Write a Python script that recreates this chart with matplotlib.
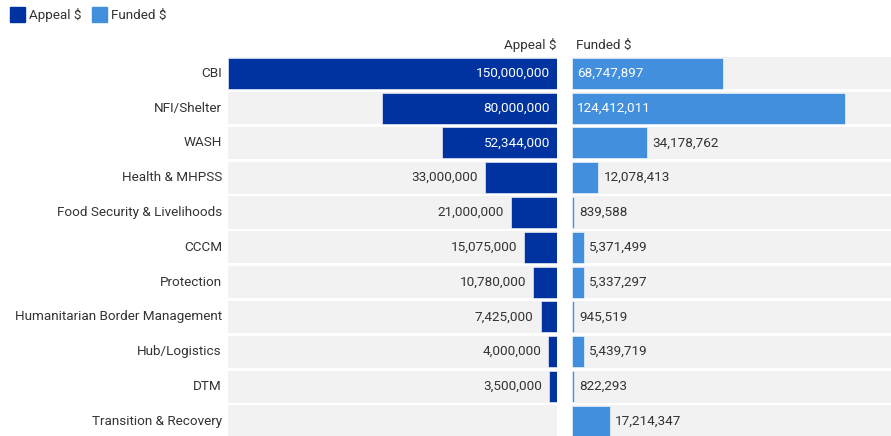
import numpy as np
import matplotlib.pyplot as plt
from matplotlib.patches import Rectangle

plt.rcParams['font.family'] = ['Roboto', 'DejaVu Sans']

sectors = ['CBI', 'NFI/Shelter', 'WASH', 'Health & MHPSS', 'Food Security & Livelihoods',
           'CCCM', 'Protection', 'Humanitarian Border Management', 'Hub/Logistics', 'DTM',
           'Transition & Recovery']
appeal = [150000000, 80000000, 52344000, 33000000, 21000000, 15075000, 10780000,
          7425000, 4000000, 3500000, np.nan]
funded = [68747897, 124412011, 34178762, 12078413, 839588, 5371499, 5337297,
          945519, 5439719, 822293, 17214347]

APPEAL_C = '#0033a0'
FUNDED_C = '#428fde'
BAND_C = '#f2f2f2'
TXT_C = '#333333'
FS = 9.7

W, H = 891, 436
fig = plt.figure(figsize=(W / 100, H / 100), dpi=100)

top_px, bot_px = 55.9, 438.7
px_per_m = 329 / 150.0


def ax_at(x0, x1):
    return fig.add_axes([x0 / W, 1 - bot_px / H, (x1 - x0) / W, (bot_px - top_px) / H])


axl = ax_at(228, 557)
axr = ax_at(572, 891)

y = np.arange(len(sectors))
band_h = 32 / 34.8
a_m = np.array(appeal) / 1e6
f_m = np.array(funded) / 1e6

left_max = 150.0
right_max = 319 / px_per_m

for ax, vals, xmax, col in [(axl, a_m, left_max, APPEAL_C), (axr, f_m, right_max, FUNDED_C)]:
    ax.barh(y, xmax, height=band_h, color=BAND_C, zorder=1)
    ax.barh(y, np.nan_to_num(vals), height=band_h * 0.97, color=col, zorder=2,
            edgecolor='#ffffff', linewidth=0.4)
    ax.set_ylim(len(sectors) - 0.5, -0.5)
    ax.axis('off')

axl.set_xlim(left_max, 0)
axr.set_xlim(0, right_max)

lpad = 7 / px_per_m
rpad = 5 / px_per_m
for i in range(len(sectors)):
    v = a_m[i]
    if not np.isnan(v):
        txt = f'{appeal[i]:,.0f}'
        if v > 40:
            axl.text(lpad, i, txt, ha='right', va='center', color='white', fontsize=FS, zorder=3)
        else:
            axl.text(v + lpad, i, txt, ha='right', va='center', color=TXT_C, fontsize=FS, zorder=3)
    v = f_m[i]
    txt = f'{funded[i]:,.0f}'
    if v > 40:
        axr.text(rpad, i, txt, ha='left', va='center', color='white', fontsize=FS, zorder=3)
    else:
        axr.text(v + rpad, i, txt, ha='left', va='center', color=TXT_C, fontsize=FS, zorder=3)
    # category labels
    fig.text(222 / W, 1 - (top_px + 34.8 * (i + 0.5)) / H, sectors[i], ha='right',
             va='center', color=TXT_C, fontsize=FS)

fig.text(557 / W, 1 - 45 / H, 'Appeal $', ha='right', va='center', color=TXT_C, fontsize=FS)
fig.text(576 / W, 1 - 45 / H, 'Funded $', ha='left', va='center', color=TXT_C, fontsize=FS)

# legend
for x0, col, lab in [(10, APPEAL_C, 'Appeal $'), (92, FUNDED_C, 'Funded $')]:
    fig.patches.append(Rectangle((x0 / W, 1 - 22 / H), 15 / W, 15 / H, color=col,
                                 transform=fig.transFigure, figure=fig))
    fig.text((x0 + 19) / W, 1 - 15 / H, lab, ha='left', va='center', color=TXT_C, fontsize=FS)

fig.savefig('out.png', dpi=100)
